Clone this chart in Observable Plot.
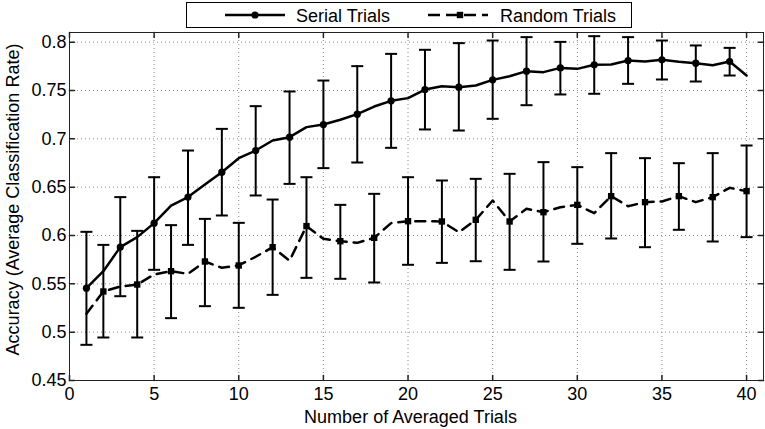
<!DOCTYPE html>
<html><head><meta charset="utf-8">
<script src="https://cdn.jsdelivr.net/npm/d3@7"></script>
<script src="https://cdn.jsdelivr.net/npm/@observablehq/plot@0.6"></script>
<style>
body{margin:0;background:#fff;}
#wrap{position:relative;width:765px;height:429px;overflow:hidden;}
#legend{position:absolute;left:186px;top:2px;}
</style></head><body><div id="wrap"></div>
<script>
// ---- data ----
const trials = [1,2,3,4,5,6,7,8,9,10,11,12,13,14,15,16,17,18,19,20,21,22,23,24,25,26,27,28,29,30,31,32,33,34,35,36,37,38,39,40];
const serialAcc = [0.5455,0.5631,0.588,0.5983,0.6128,0.631,0.6397,0.6528,0.6655,0.680,
  0.6879,0.6983,0.7017,0.7121,0.7148,0.7197,0.7255,0.7334,0.7393,0.7421,
  0.751,0.7545,0.7534,0.7552,0.761,0.7648,0.77,0.769,0.7734,0.7724,
  0.7766,0.7769,0.781,0.78,0.7817,0.7797,0.7783,0.7762,0.78,0.7655];
const randomAcc = [0.519,0.5421,0.5472,0.5493,0.5597,0.5631,0.5603,0.5731,0.5666,0.569,
  0.578,0.5879,0.574,0.6097,0.5966,0.5941,0.5924,0.5976,0.6128,0.6148,
  0.6148,0.6145,0.6034,0.6162,0.6362,0.6145,0.6276,0.6241,0.6293,0.6317,
  0.6231,0.6407,0.6303,0.6345,0.6352,0.6407,0.6345,0.6397,0.6493,0.6459];
const serialBarX = [1,3,5,7,9,11,13,15,17,19,21,23,25,27,29,31,33,35,37,39];
const serialLow  = [0.4869,0.5372,0.5645,0.5903,0.6207,0.6414,0.6534,0.6697,0.6755,0.6907,
  0.7097,0.7086,0.7207,0.7348,0.7459,0.7466,0.7569,0.7614,0.7593,0.7655];
const serialHigh = [0.6038,0.6397,0.6603,0.6879,0.7103,0.7338,0.749,0.7603,0.7752,0.7879,
  0.7921,0.799,0.8017,0.8052,0.8003,0.8062,0.8052,0.8017,0.7966,0.7941];
const randomBarX = [2,4,6,8,10,12,14,16,18,20,22,24,26,28,30,32,34,36,38,40];
const randomLow  = [0.4945,0.4945,0.5145,0.5269,0.5252,0.5386,0.5562,0.5552,0.5514,0.5697,
  0.5717,0.5734,0.5645,0.5731,0.5914,0.5969,0.5879,0.6059,0.5938,0.5983];
const randomHigh = [0.5903,0.6048,0.6107,0.6172,0.6131,0.6372,0.6603,0.6317,0.6431,0.6603,
  0.6569,0.6586,0.6638,0.6759,0.6707,0.6852,0.68,0.6748,0.6852,0.6931];
const xTicks = [0,5,10,15,20,25,30,35,40];
const yTicks = [0.45,0.5,0.55,0.6,0.65,0.7,0.75,0.8];
const seriesNames = ["Serial Trials","Random Trials"];
const xLabel = "Number of Averaged Trials";
const yLabel = "Accuracy (Average Classification Rate)";

// ---- tables ----
const serialLine = trials.map((t,i)=>({x:t, y:serialAcc[i]}));
const randomLine = trials.map((t,i)=>({x:t, y:randomAcc[i]}));
const serialBars = serialBarX.map((t,i)=>({x:t, y:serialAcc[t-1], lo:serialLow[i], hi:serialHigh[i]}));
const randomBars = randomBarX.map((t,i)=>({x:t, y:randomAcc[t-1], lo:randomLow[i], hi:randomHigh[i]}));

const F = "'Liberation Sans', Arial, Helvetica, sans-serif";
const INK = "#000";
const lineShape = {draw(ctx, l){ ctx.moveTo(0,0); ctx.lineTo(0,-l); }};
const capSymbol = {draw(ctx){ ctx.moveTo(-6,0); ctx.lineTo(6,0); }};
const TL = 5;

const chart = Plot.plot({
  width: 765, height: 429,
  marginLeft: 69, marginRight: 2, marginTop: 32, marginBottom: 49,
  style: {fontFamily: F, fontSize: "18px", color: INK, background: "#fff"},
  x: {domain: [0, 41]},
  y: {domain: [0.45, 0.81]},
  marks: [
    Plot.gridX(xTicks.filter(d => d > 0), {stroke: "#888", strokeOpacity: 1, strokeDasharray: "1,3"}),
    Plot.gridY(yTicks.filter(d => d > 0.45), {stroke: "#888", strokeOpacity: 1, strokeDasharray: "1,3"}),
    Plot.frame({stroke: "#222", strokeWidth: 1}),
    // inner ticks
    Plot.vector(xTicks, {x: d => d, frameAnchor: "bottom", length: TL, rotate: 0, anchor: "start", shape: lineShape, stroke: "#222"}),
    Plot.vector(xTicks, {x: d => d, frameAnchor: "top", length: TL, rotate: 180, anchor: "start", shape: lineShape, stroke: "#222"}),
    Plot.vector(yTicks, {y: d => d, frameAnchor: "left", length: TL, rotate: 90, anchor: "start", shape: lineShape, stroke: "#222"}),
    Plot.vector(yTicks, {y: d => d, frameAnchor: "right", length: TL, rotate: -90, anchor: "start", shape: lineShape, stroke: "#222"}),
    Plot.axisX({ticks: xTicks, tickSize: 0, tickPadding: 7, label: null, tickFormat: d => String(d), fill: INK}),
    Plot.axisY({ticks: yTicks, tickSize: 0, tickPadding: 3, label: null, tickFormat: d => String(d), fill: INK}),
    Plot.text([xLabel], {frameAnchor: "bottom", dy: 37, dx: -6, textAnchor: "middle", lineAnchor: "middle", fontSize: 18, fill: INK}),
    Plot.text([yLabel], {frameAnchor: "left", rotate: -90, dx: -56, dy: -7, textAnchor: "middle", lineAnchor: "middle", fontSize: 18, fill: INK}),
    // error bars
    Plot.ruleX(serialBars, {x: "x", y1: "lo", y2: "hi", stroke: INK, strokeWidth: 2}),
    Plot.dot(serialBars, {x: "x", y: "lo", symbol: capSymbol, stroke: INK, strokeWidth: 2, fill: "none"}),
    Plot.dot(serialBars, {x: "x", y: "hi", symbol: capSymbol, stroke: INK, strokeWidth: 2, fill: "none"}),
    Plot.ruleX(randomBars, {x: "x", y1: "lo", y2: "hi", stroke: INK, strokeWidth: 2}),
    Plot.dot(randomBars, {x: "x", y: "lo", symbol: capSymbol, stroke: INK, strokeWidth: 2, fill: "none"}),
    Plot.dot(randomBars, {x: "x", y: "hi", symbol: capSymbol, stroke: INK, strokeWidth: 2, fill: "none"}),
    // lines
    Plot.line(serialLine, {x: "x", y: "y", stroke: INK, strokeWidth: 2.5}),
    Plot.line(randomLine, {x: "x", y: "y", stroke: INK, strokeWidth: 2.5, strokeDasharray: "10,7"}),
    Plot.dot(serialBars, {x: "x", y: "y", symbol: "circle", r: 3.6, fill: INK}),
    Plot.dot(randomBars, {x: "x", y: "y", symbol: "square", r: 3.6, fill: INK})
  ]
});
const wrap = document.getElementById("wrap");
wrap.appendChild(chart);

// legend
const lg = d3.create("svg").attr("id","legend").attr("width",447).attr("height",27)
  .style("font-family", F).style("font-size","18px");
lg.append("rect").attr("x",0.5).attr("y",0.5).attr("width",445).attr("height",25)
  .attr("fill","#fff").attr("stroke","#000");
lg.append("line").attr("x1",39).attr("x2",99).attr("y1",13).attr("y2",13).attr("stroke","#000").attr("stroke-width",2.5);
lg.append("circle").attr("cx",69).attr("cy",13).attr("r",3.6).attr("fill","#000");
lg.append("text").attr("x",110).attr("y",19.5).text(seriesNames[0]);
lg.append("line").attr("x1",242).attr("x2",302).attr("y1",13).attr("y2",13).attr("stroke","#000").attr("stroke-width",2.5).attr("stroke-dasharray","12,6");
lg.append("rect").attr("x",270.8).attr("y",9.8).attr("width",6.4).attr("height",6.4).attr("fill","#000");
lg.append("text").attr("x",314).attr("y",19.5).text(seriesNames[1]);
wrap.appendChild(lg.node());
</script></body></html>
